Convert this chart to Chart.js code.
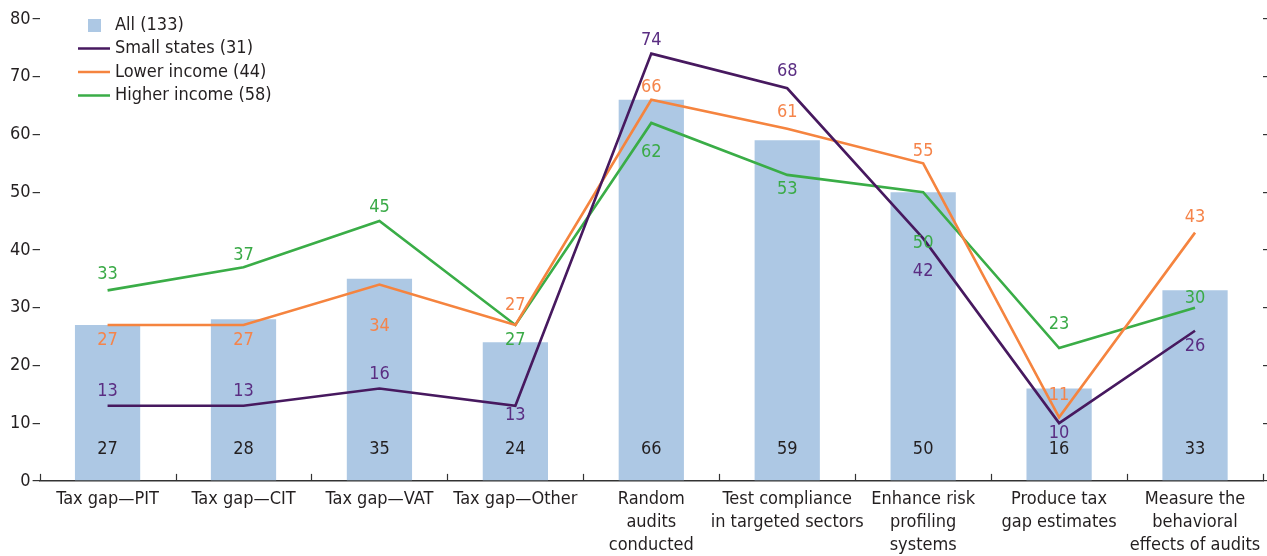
<!DOCTYPE html>
<html>
<head>
<meta charset="utf-8">
<script src="https://cdn.jsdelivr.net/npm/chart.js@4.4.1/dist/chart.umd.min.js"></script>
<style>
  html, body { margin: 0; padding: 0; background: #ffffff; }
  #wrap { width: 1267px; height: 556px; }
</style>
</head>
<body>
<div id="wrap"><canvas id="c" width="1267" height="556"></canvas></div>
<script>
// Categories of audit use
const categories = [
  'Tax gap\u2014PIT',
  'Tax gap\u2014CIT',
  'Tax gap\u2014VAT',
  'Tax gap\u2014Other',
  ['Random', 'audits', 'conducted'],
  ['Test compliance', 'in targeted sectors'],
  ['Enhance risk', 'profiling', 'systems'],
  ['Produce tax', 'gap estimates'],
  ['Measure the', 'behavioral', 'effects of audits']
];

// Percent of respondents, by group
const allValues = [27, 28, 35, 24, 66, 59, 50, 16, 33];
const smallStates = [13, 13, 16, 13, 74, 68, 42, 10, 26];
const lowerIncome = [27, 27, 34, 27, 66, 61, 55, 11, 43];
const higherIncome = [33, 37, 45, 27, 62, 53, 50, 23, 30];

// Y axis ticks
const yTicks = [0, 10, 20, 30, 40, 50, 60, 70, 80];

// Vertical label offsets (px) from each line point: negative = above
const smallLabelOffset = [-14, -14, -14, 10, -13, -17, 33, 10, 16];
const lowerLabelOffset = [15, 15, 42, -20, -13, -16, -12, -22, -15];
const higherLabelOffset = [-16, -12, -14, 15, 29, 14, 51, -24, -9];

const FONT = '"DejaVu Sans Condensed", "Liberation Sans Narrow", "Roboto", sans-serif';
const FS = 18;
const TEXT = '#231f20';
const BAR = '#adc8e4';
const PURPLE = '#47195f';
const ORANGE = '#f5843f';
const GREEN = '#3aad47';

// Tick marks at category boundaries, pointing up from the x axis
const boundaryTicks = {
  id: 'boundaryTicks',
  afterDraw(chart) {
    const x = chart.scales.x;
    const area = chart.chartArea;
    const ctx = chart.ctx;
    const n = categories.length;
    ctx.save();
    ctx.strokeStyle = '#333333';
    ctx.lineWidth = 1.2;
    for (let i = 0; i <= n; i++) {
      let px;
      if (i === 0) px = area.left;
      else if (i === n) px = area.right;
      else px = (x.getPixelForValue(i - 1) + x.getPixelForValue(i)) / 2;
      px = Math.round(px) + 0.5;
      ctx.beginPath();
      ctx.moveTo(px, area.bottom);
      ctx.lineTo(px, area.bottom - 7);
      ctx.stroke();
    }
    ctx.restore();
  }
};

// Value labels for bars and lines
const valueLabels = {
  id: 'valueLabels',
  afterDatasetsDraw(chart) {
    const ctx = chart.ctx;
    const y = chart.scales.y;
    ctx.save();
    ctx.font = FS + 'px ' + FONT;
    ctx.textAlign = 'center';
    ctx.textBaseline = 'middle';
    chart.data.datasets.forEach((ds, di) => {
      const meta = chart.getDatasetMeta(di);
      meta.data.forEach((el, i) => {
        let ty;
        if (ds.type === 'bar') {
          ty = y.getPixelForValue(0) - 32;
        } else {
          ty = el.y + ds.labelOffsets[i];
        }
        ctx.fillStyle = ds.labelColor;
        ctx.fillText(String(ds.data[i]), el.x, ty);
      });
    });
    ctx.restore();
  }
};

// Stacked legend in the upper left corner
const legendBox = {
  id: 'legendBox',
  afterDraw(chart) {
    const ctx = chart.ctx;
    const x0 = 78, y0 = 25, step = 23.5;
    ctx.save();
    ctx.font = FS + 'px ' + FONT;
    ctx.textBaseline = 'middle';
    ctx.textAlign = 'left';
    chart.data.datasets.forEach((ds, i) => {
      const cy = y0 + i * step;
      if (ds.type === 'bar') {
        ctx.fillStyle = ds.backgroundColor;
        ctx.fillRect(x0 + 10, cy - 6, 13, 13);
      } else {
        ctx.strokeStyle = ds.borderColor;
        ctx.lineWidth = 2.5;
        ctx.beginPath();
        ctx.moveTo(x0, cy);
        ctx.lineTo(x0 + 32, cy);
        ctx.stroke();
      }
      ctx.fillStyle = TEXT;
      ctx.fillText(ds.label, x0 + 37, cy);
    });
    ctx.restore();
  }
};

new Chart(document.getElementById('c'), {
  type: 'bar',
  data: {
    labels: categories,
    datasets: [
      {
        type: 'bar', label: 'All (133)', data: allValues,
        backgroundColor: BAR, labelColor: TEXT,
        barPercentage: 0.48, categoryPercentage: 1, order: 4
      },
      {
        type: 'line', label: 'Small states (31)', data: smallStates,
        borderColor: PURPLE, borderWidth: 2.6, pointRadius: 0, tension: 0,
        labelColor: '#5a2d82', labelOffsets: smallLabelOffset, order: 1
      },
      {
        type: 'line', label: 'Lower income (44)', data: lowerIncome,
        borderColor: ORANGE, borderWidth: 2.6, pointRadius: 0, tension: 0,
        labelColor: '#f5844a', labelOffsets: lowerLabelOffset, order: 2
      },
      {
        type: 'line', label: 'Higher income (58)', data: higherIncome,
        borderColor: GREEN, borderWidth: 2.6, pointRadius: 0, tension: 0,
        labelColor: '#3aaa47', labelOffsets: higherLabelOffset, order: 3
      }
    ]
  },
  options: {
    responsive: false,
    animation: false,
    devicePixelRatio: 1,
    layout: { padding: { top: 19, left: 8, right: 0, bottom: 0 } },
    plugins: {
      legend: { display: false },
      tooltip: { enabled: false }
    },
    scales: {
      x: {
        offset: true,
        grid: { display: false },
        border: { display: true, color: '#333333', width: 1.5 },
        ticks: {
          color: TEXT, padding: -1, maxRotation: 0, autoSkip: false,
          font: { family: FONT, size: FS, lineHeight: 1.28 }
        }
      },
      y: {
        min: 0, max: 80,
        afterBuildTicks(scale) { scale.ticks = yTicks.map(v => ({ value: v })); },
        grid: { drawOnChartArea: false, tickLength: 7, color: '#333333', lineWidth: 1.2 },
        border: { display: false },
        ticks: { color: TEXT, padding: 2, font: { family: FONT, size: FS } }
      },
      yRight: {
        position: 'right',
        min: 0, max: 80,
        afterBuildTicks(scale) { scale.ticks = yTicks.map(v => ({ value: v })); },
        grid: { drawOnChartArea: false, tickLength: 4, color: '#333333', lineWidth: 1.2 },
        border: { display: false },
        ticks: { display: false }
      }
    }
  },
  plugins: [boundaryTicks, valueLabels, legendBox]
});
</script>
</body>
</html>
